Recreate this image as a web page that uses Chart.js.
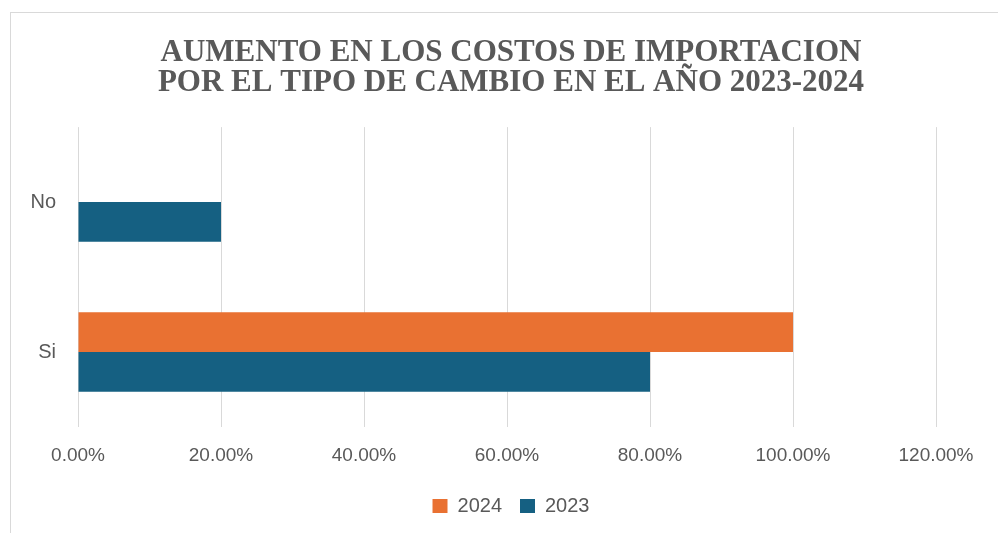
<!DOCTYPE html>
<html>
<head>
<meta charset="utf-8">
<script src="https://cdn.jsdelivr.net/npm/chart.js@4/dist/chart.umd.min.js"></script>
<style>
  html, body { margin: 0; padding: 0; background: #fff; overflow: hidden; width: 998px; height: 533px; }
  #frame { position: absolute; left: 10px; top: 12px; width: 1100px; height: 600px; border: 1px solid #d9d9d9; pointer-events: none; }
  #chart { position: absolute; left: 0; top: 0; }
</style>
</head>
<body>
<canvas id="chart" width="1022" height="533"></canvas>
<div id="frame"></div>
<script>
const categories = ["No", "Si"];
const series2024 = [0, 100];
const series2023 = [20, 80];
const xTicks = [0, 20, 40, 60, 80, 100, 120];

const grey = "#595959";

const ctx = document.getElementById("chart").getContext("2d");
const myChart = new Chart(ctx, {
  type: "bar",
  data: {
    labels: categories,
    datasets: [
      {
        label: "2024",
        data: series2024,
        backgroundColor: "#E97132",
        borderWidth: 0,
      },
      {
        label: "2023",
        data: series2023,
        backgroundColor: "#156082",
        borderWidth: 0,
      },
    ],
  },
  options: {
    responsive: false,
    animation: false,
    indexAxis: "y",
    layout: { padding: { bottom: 7 } },
    datasets: {
      bar: { categoryPercentage: 0.53, barPercentage: 1 },
    },
    scales: {
      x: {
        min: 0,
        max: 120,
        afterBuildTicks: (scale) => {
          scale.ticks = xTicks.map((v) => ({ value: v }));
        },
        grid: { color: "#d9d9d9", drawTicks: false },
        border: { display: false },
        ticks: {
          color: grey,
          padding: 17,
          font: { family: "'Liberation Sans', Arial", size: 19 },
          callback: (v) => v.toFixed(2) + "%",
        },
        afterFit: (scale) => { scale.height = 51; },
      },
      y: {
        grid: { display: false, drawTicks: false },
        border: { display: false },
        ticks: {
          color: grey,
          padding: 22,
          font: { family: "'Liberation Sans', Arial", size: 20 },
        },
        afterFit: (scale) => { scale.width = 78; },
      },
      yRight: {
        position: "right",
        grid: { display: false, drawTicks: false },
        border: { display: false },
        ticks: { display: false },
        afterFit: (scale) => { scale.width = 86; },
      },
    },
    plugins: {
      title: {
        display: true,
        text: ["AUMENTO EN LOS COSTOS DE IMPORTACION", "POR EL TIPO DE CAMBIO EN EL AÑO 2023-2024"],
        color: grey,
        font: { family: "'Liberation Serif', 'Times New Roman', serif", size: 31, weight: "bold", lineHeight: 0.97 },
        padding: { top: 38, bottom: 29 },
      },
      legend: {
        position: "bottom",
        labels: {
          color: grey,
          boxWidth: 15,
          boxHeight: 14,
          padding: 18,
          font: { family: "'Liberation Sans', Arial", size: 20 },
        },
      },
      tooltip: { enabled: false },
    },
  },
});
</script>
</body>
</html>
